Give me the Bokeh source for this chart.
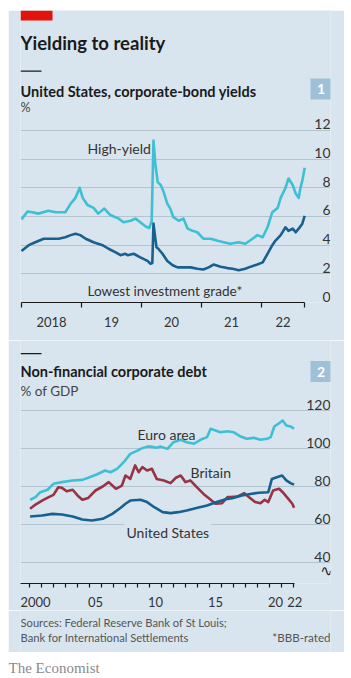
from bokeh.plotting import figure
from bokeh.models import Range1d, LinearAxis, FixedTicker, Grid, Label, BoxAnnotation, Spacer
from bokeh.layouts import column, row
from bokeh.embed import file_html
from bokeh.resources import INLINE
from bokeh.core.properties import value

BG = "#d8e5ee"
GRID = "#b4c4cf"
CYAN = "#3ebfd4"
NAVY = "#17608f"
RED = "#983344"
INK = "#1a1a1a"
TXT = "#333333"
FONT = "Lato"

# ---------------- panel 1 data: US corporate-bond yields, % ----------------
hy_t = [2018.00, 2018.10, 2018.18, 2018.28, 2018.45, 2018.57, 2018.73, 2018.82, 2018.90, 2018.97,
        2019.02, 2019.10, 2019.20, 2019.28, 2019.38, 2019.48, 2019.62, 2019.70, 2019.82, 2019.90,
        2019.98, 2020.07, 2020.13, 2020.17, 2020.20, 2020.23, 2020.27, 2020.32, 2020.37, 2020.43,
        2020.48, 2020.53, 2020.62, 2020.70, 2020.77, 2020.85, 2020.93, 2021.03, 2021.15, 2021.27,
        2021.37, 2021.48, 2021.62, 2021.73, 2021.85, 2021.93, 2022.02, 2022.10, 2022.18, 2022.27,
        2022.32, 2022.40, 2022.45, 2022.52, 2022.57, 2022.62, 2022.65, 2022.68, 2022.72]
hy_v = [5.8, 6.35, 6.3, 6.2, 6.4, 6.3, 6.3, 6.9, 7.3, 8.0,
        7.3, 6.8, 6.6, 6.2, 6.55, 6.1, 5.85, 5.6, 5.7, 5.85,
        5.6, 5.3, 5.2, 5.7, 11.3, 9.7, 8.4, 8.2, 7.7, 6.9,
        6.55, 5.95, 5.7, 5.85, 5.15, 5.0, 4.9, 4.45, 4.45, 4.3,
        4.2, 4.1, 4.2, 4.1, 4.45, 4.7, 4.55, 5.25, 6.3, 6.6,
        7.3, 8.0, 8.65, 8.2, 7.6, 7.3, 8.0, 8.5, 9.4]

bbb_t = [2018.00, 2018.12, 2018.23, 2018.37, 2018.52, 2018.62, 2018.73, 2018.82, 2018.90, 2018.98,
         2019.07, 2019.20, 2019.35, 2019.45, 2019.57, 2019.65, 2019.73, 2019.77, 2019.87, 2019.98,
         2020.10, 2020.15, 2020.18, 2020.20, 2020.22, 2020.25, 2020.28, 2020.35, 2020.43, 2020.52,
         2020.60, 2020.70, 2020.82, 2020.93, 2021.03, 2021.12, 2021.20, 2021.32, 2021.43, 2021.52,
         2021.62, 2021.73, 2021.82, 2021.93, 2022.02, 2022.10, 2022.18, 2022.23, 2022.32, 2022.40,
         2022.45, 2022.52, 2022.57, 2022.62, 2022.68, 2022.72]
bbb_v = [3.6, 4.0, 4.2, 4.45, 4.45, 4.45, 4.55, 4.7, 4.8, 4.7,
         4.45, 4.2, 4.0, 3.75, 3.5, 3.3, 3.4, 3.3, 3.4, 3.15,
         2.9, 2.7, 2.75, 5.5, 4.8, 3.85, 3.75, 3.4, 2.9, 2.6,
         2.45, 2.45, 2.45, 2.35, 2.3, 2.45, 2.65, 2.5, 2.4, 2.35,
         2.25, 2.35, 2.5, 2.65, 2.8, 3.4, 4.0, 4.3, 4.7, 5.25,
         5.0, 5.15, 4.9, 5.15, 5.5, 6.05]

p1_yticks = [0, 2, 4, 6, 8, 10, 12]
p1_ytick_labels = ["0", "2", "4", "6", "8", "10", "12"]
p1_year_ticks = [2018, 2019, 2020, 2021, 2022, 2022.72]
p1_label_pos = [2018.5, 2019.5, 2020.5, 2021.5, 2022.36]
p1_labels = ["2018", "19", "20", "21", "22"]

# ---------------- panel 2 data: non-financial corporate debt, % of GDP ----------------
euro_t = [2000.05, 2000.5, 2000.9, 2001.5, 2002.0, 2002.7, 2003.6, 2004.4, 2004.9, 2005.6,
          2006.3, 2006.75, 2007.3, 2007.85, 2008.4, 2009.0, 2009.25, 2009.8, 2010.1, 2010.6,
          2010.9, 2011.5, 2012.0, 2012.6, 2013.1, 2013.7, 2014.25, 2014.8, 2015.1, 2015.5,
          2015.9, 2016.5, 2017.0, 2017.6, 2018.1, 2018.7, 2019.25, 2019.8, 2020.1, 2020.4,
          2020.8, 2021.1, 2021.4, 2021.75, 2022.05]
euro_v = [73.0, 74.4, 77.0, 78.3, 81.4, 82.3, 83.2, 83.5, 84.6, 86.3,
          88.4, 87.5, 89.3, 92.8, 97.2, 98.9, 99.8, 101.0, 101.0, 100.4,
          101.0, 99.8, 103.3, 104.6, 103.3, 102.5, 104.6, 106.0, 110.4, 109.5,
          108.6, 109.1, 108.6, 106.3, 105.1, 105.6, 104.6, 105.1, 106.0, 111.6,
          113.3, 114.7, 112.1, 111.6, 110.4]

uk_t = [2000.05, 2000.5, 2001.05, 2001.6, 2002.0, 2002.4, 2002.7, 2003.1, 2003.6, 2004.0,
        2004.4, 2004.9, 2005.5, 2006.1, 2006.6, 2007.2, 2007.7, 2008.0, 2008.4, 2008.8,
        2009.1, 2009.4, 2009.8, 2010.2, 2010.6, 2011.2, 2011.75, 2012.2, 2012.6, 2013.0,
        2013.4, 2014.0, 2014.5, 2015.0, 2015.5, 2016.05, 2016.5, 2016.75, 2017.3, 2017.9,
        2018.3, 2018.8, 2019.25, 2019.6, 2019.9, 2020.3, 2020.8, 2021.1, 2021.5, 2021.9,
        2022.05]
uk_v = [68.3, 70.5, 72.6, 74.4, 75.6, 79.6, 79.3, 77.5, 78.3, 75.3,
        73.0, 74.0, 77.9, 80.0, 82.3, 78.8, 80.5, 85.8, 84.0, 91.1,
        87.5, 90.2, 88.4, 89.3, 84.0, 83.2, 81.8, 84.6, 85.8, 82.3,
        83.2, 79.3, 76.1, 73.5, 70.9, 71.2, 74.4, 74.4, 74.7, 76.5,
        74.4, 71.8, 71.2, 73.0, 71.8, 77.9, 78.8, 77.0, 74.0, 70.9,
        68.8]

us_t = [2000.05, 2001.05, 2001.9, 2002.7, 2003.6, 2004.4, 2005.2, 2006.1, 2006.9, 2007.6,
        2008.0, 2008.4, 2009.25, 2009.8, 2010.4, 2011.1, 2011.75, 2012.4, 2013.1, 2014.0,
        2014.8, 2015.6, 2016.5, 2016.9, 2017.7, 2018.4, 2019.1, 2019.9, 2020.2, 2020.6,
        2021.05, 2021.4, 2021.75, 2022.05]
us_v = [64.2, 64.7, 65.6, 65.3, 64.2, 62.6, 62.1, 63.0, 65.6, 68.8,
        70.9, 72.6, 73.0, 71.8, 69.1, 66.5, 66.0, 66.5, 67.4, 68.8,
        70.0, 71.8, 73.5, 73.8, 75.3, 76.1, 76.7, 77.0, 84.0, 84.9,
        85.8, 83.2, 81.8, 81.0]

p2_yticks = [40, 60, 80, 100, 120]
p2_ytick_labels = ["40", "60", "80", "100", "120"]
p2_year_ticks = list(range(2000, 2023))
p2_label_pos = [2000.5, 2005.5, 2010.5, 2015.5, 2020.5, 2022.1]
p2_labels = ["2000", "05", "10", "15", "20", "22"]


def base_fig(h, xr, yr, bg=BG, bb=0, width=336, bl=12, br=14):
    f = figure(width=width, height=h, x_range=xr, y_range=yr, x_axis_type=None, y_axis_type=None,
               toolbar_location=None, output_backend="svg", min_border_left=bl,
               min_border_right=br, min_border_top=0, min_border_bottom=bb,
               background_fill_color=bg, border_fill_color=bg, outline_line_color=None)
    return f


def lab(p, x, y, text, size="14px", style="normal", color=TXT, font=FONT, **kw):
    p.add_layout(Label(x=x, y=y, x_units="screen", y_units="screen", text=text,
                       text_font=font, text_font_size=size, text_font_style=style,
                       text_color=color, text_baseline=kw.pop("baseline", "alphabetic"),
                       text_align=kw.pop("align", "left"), **kw))


def box(p, l, r, t, b, color):
    p.add_layout(BoxAnnotation(left=l, right=r, top=t, bottom=b, left_units="screen",
                               right_units="screen", top_units="screen", bottom_units="screen",
                               fill_color=color, fill_alpha=1, line_color=None, level="underlay"))


def xaxis(p, label_pos, labels, year_ticks, bounds, tick_len):
    ax = LinearAxis(ticker=FixedTicker(ticks=label_pos, minor_ticks=year_ticks), bounds=bounds,
                    major_label_overrides={k: v for k, v in zip(label_pos, labels)},
                    major_tick_out=0, major_tick_in=0, minor_tick_out=tick_len, minor_tick_in=0,
                    axis_line_color=INK, axis_line_width=1.2, minor_tick_line_color=INK,
                    minor_tick_line_width=1.2, major_label_text_font=FONT,
                    major_label_text_font_size="13px", major_label_text_color=TXT,
                    major_label_standoff=9)
    p.add_layout(ax, "below")


def ylabels(p, xpos, ticks, labels):
    p.text(x=[xpos] * len(ticks), y=ticks, text=labels, text_align="right",
           text_baseline="bottom", y_offset=-1, text_font=value(FONT), text_font_size="14px",
           text_color=TXT)


# ---------------- panel 1 figure ----------------
x1_start = 2018 - 1 / 60
x1_end = x1_start + 310 / 60
p1 = base_fig(330, Range1d(x1_start, x1_end), Range1d(0, 20.37), bb=38)
p1.add_layout(Grid(dimension=1, ticker=FixedTicker(ticks=p1_yticks[1:]), grid_line_color=GRID,
                   grid_line_width=1))
xaxis(p1, p1_label_pos, p1_labels, p1_year_ticks, (2018, 2022.72), 5)
p1.line(hy_t, hy_v, line_color=CYAN, line_width=2.6, line_join="round")
p1.line(bbb_t, bbb_v, line_color=NAVY, line_width=2.6, line_join="round")
ylabels(p1, x1_end, p1_yticks, p1_ytick_labels)

box(p1, 0, 32, 292, 282, "#e3120b")
lab(p1, 0, 260, "Yielding to reality", size="18.5px", style="bold", color=INK)
box(p1, 0, 21, 232, 230.7, INK)
lab(p1, 0, 211.5, "United States, corporate-bond yields", size="14.5px", style="bold", color=INK)
lab(p1, 0, 195, "%", size="12.5px", color="#444444")
box(p1, 290, 311, 224, 203, "#9fc1d7")
lab(p1, 300.5, 213.5, "1", size="14px", style="bold", color="white", align="center", baseline="middle")
lab(p1, 67, 154, "High-yield", size="14px")
lab(p1, 67, 11.5, "Lowest investment grade*", size="13.6px")

# ---------------- panel 2 figure ----------------
x2_start = 1999.25
x2_end = x2_start + 310 / 12
p2 = base_fig(270, Range1d(x2_start, x2_end), Range1d(28.95, 28.95 + 243 / 1.9), bb=27)
p2.add_layout(Grid(dimension=1, ticker=FixedTicker(ticks=p2_yticks), grid_line_color=GRID,
                   grid_line_width=1))
xaxis(p2, p2_label_pos, p2_labels, p2_year_ticks, (1999.25, 2022.1), 4)
p2.line(euro_t, euro_v, line_color=CYAN, line_width=2.6, line_join="round")
p2.line(uk_t, uk_v, line_color=RED, line_width=2.6, line_join="round")
p2.line(us_t, us_v, line_color=NAVY, line_width=2.6, line_join="round")
ylabels(p2, x2_end, p2_yticks, p2_ytick_labels)

box(p2, 0, 21, 230.5, 229.2, INK)
lab(p2, 0, 212.3, "Non-financial corporate debt", size="14.5px", style="bold", color=INK)
lab(p2, 0, 193, "% of GDP", size="13.5px", color="#444444")
box(p2, 290, 311, 222.5, 201.5, "#9fc1d7")
lab(p2, 300.5, 212, "2", size="14px", style="bold", color="white", align="center", baseline="middle")
lab(p2, 117, 149, "Euro area", size="14px")
lab(p2, 170, 111, "Britain", size="14px")
lab(p2, 104, 51, "United States", size="14px", background_fill_color=BG, padding=2)
lab(p2, 306, 13, "∿", size="15px", color=INK, align="center", baseline="middle",
    font="DejaVu Sans")

# ---------------- sources ----------------
p3 = base_fig(42, Range1d(0, 1), Range1d(0, 1))
lab(p3, 0, 30, "Sources: Federal Reserve Bank of St Louis;", size="11.2px", color="#555555")
lab(p3, 0, 15, "Bank for International Settlements", size="11.2px", color="#555555")
lab(p3, 310, 15, "*BBB-rated", size="11.6px", color="#555555", align="right")

# ---------------- footer on white ----------------
p4 = base_fig(26, Range1d(0, 1), Range1d(0, 1), bg="white", width=351, bl=8, br=0)
lab(p4, 0, 11, "The Economist", size="15px", color="#8a8a8a", font="Liberation Serif")

layout = column(Spacer(height=10), row(Spacer(width=8), column(p1, p2, p3)), p4)

open("out.html", "w").write(file_html(layout, INLINE))
